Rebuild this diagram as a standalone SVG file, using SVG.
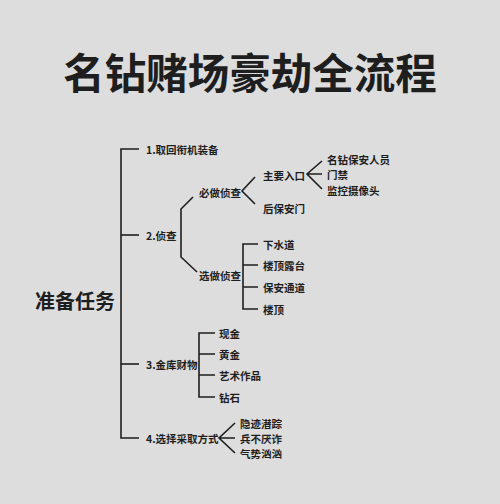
<svg xmlns="http://www.w3.org/2000/svg" width="500" height="504" viewBox="0 0 500 504">
<style>
.t{font-family:"Noto Sans CJK SC","Noto Sans",sans-serif;font-weight:bold;fill:#1e1e1e;dominant-baseline:central}
.s{font-size:10.5px}
.c{fill:none;stroke:#1e1e1e;stroke-width:1.6;stroke-linejoin:miter}
</style>
<rect width="500" height="504" fill="#dddddd"/>
<text class="t" x="250" y="71" font-size="41.5" font-weight="900" text-anchor="middle">名钻赌场豪劫全流程</text>
<g id="connectors">
<path class="c" d="M139,149 H121 V438 H139"/>
<path class="c" d="M121,235 H139"/>
<path class="c" d="M121,364 H139"/>
<path class="c" d="M193,197 L181,209 V257 L197,272"/>
<path class="c" d="M255,177 L242,191 L255,204"/>
<path class="c" d="M322,161 L307,174 L322,189 M307,174 H322"/>
<path class="c" d="M258,244 H243 V309 H258 M243,265 H258 M243,287 H258"/>
<path class="c" d="M215,333 H199 V397 H215 M199,354 H215 M199,375 H215"/>
<path class="c" d="M235,423 L219,438 L235,453 M219,438 H235"/>
</g>
<g id="root"><text class="t" x="35" y="300" font-size="20">准备任务</text></g>
<g id="n1"><text class="t s" x="146" y="149">1.取回衔机装备</text></g>
<g id="n2"><text class="t s" x="146" y="235">2.侦查</text></g>
<g id="n2a"><text class="t s" x="199" y="192">必做侦查</text></g>
<g id="n2a1"><text class="t s" x="263" y="175">主要入口</text></g>
<g id="n2a1a"><text class="t s" x="327" y="159">名钻保安人员</text></g>
<g id="n2a1b"><text class="t s" x="327" y="174">门禁</text></g>
<g id="n2a1c"><text class="t s" x="327" y="190">监控摄像头</text></g>
<g id="n2a2"><text class="t s" x="263" y="208">后保安门</text></g>
<g id="n2b"><text class="t s" x="199" y="275">选做侦查</text></g>
<g id="n2b1"><text class="t s" x="263" y="244">下水道</text></g>
<g id="n2b2"><text class="t s" x="263" y="265">楼顶露台</text></g>
<g id="n2b3"><text class="t s" x="263" y="287">保安通道</text></g>
<g id="n2b4"><text class="t s" x="263" y="309">楼顶</text></g>
<g id="n3"><text class="t s" x="146" y="364">3.金库财物</text></g>
<g id="n3a"><text class="t s" x="219" y="333">现金</text></g>
<g id="n3b"><text class="t s" x="219" y="354">黄金</text></g>
<g id="n3c"><text class="t s" x="219" y="375">艺术作品</text></g>
<g id="n3d"><text class="t s" x="219" y="397">钻石</text></g>
<g id="n4"><text class="t s" x="146" y="438">4.选择采取方式</text></g>
<g id="n4a"><text class="t s" x="240" y="423">隐迹潜踪</text></g>
<g id="n4b"><text class="t s" x="240" y="438">兵不厌诈</text></g>
<g id="n4c"><text class="t s" x="240" y="453">气势汹汹</text></g>
</svg>
